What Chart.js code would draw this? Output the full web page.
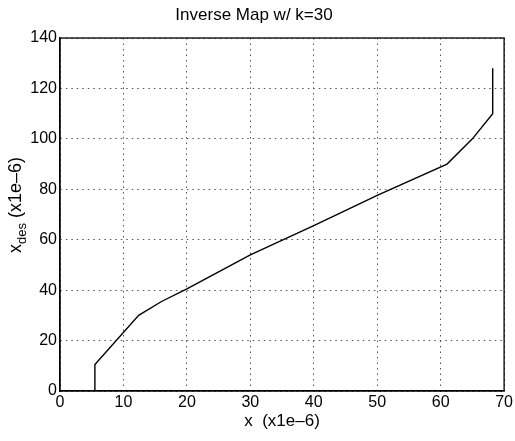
<!DOCTYPE html>
<html>
<head>
<meta charset="utf-8">
<title>Inverse Map w/ k=30</title>
<script src="https://cdn.jsdelivr.net/npm/chart.js@4.4.1/dist/chart.umd.min.js"></script>
<style>
  html, body { margin: 0; padding: 0; background: #fff; }
  #wrap { width: 515px; height: 441px; }
</style>
</head>
<body>
<div id="wrap"><canvas id="myChart" width="515" height="441"></canvas></div>
<script>
// values (units of 1e-6)
var xValues = [0, 5.5, 5.5, 12.4, 16, 20, 30, 40, 50, 61, 65, 68.2, 68.2];
var yValues = [0, 0, 10.5, 30, 35.5, 40.5, 54, 65.6, 77.6, 90, 100, 110, 128];
var xTicks = [0, 10, 20, 30, 40, 50, 60, 70];
var yTicks = [0, 20, 40, 60, 80, 100, 120, 140];

var fontName = "'Liberation Sans', Arial, Helvetica, sans-serif";

// frame round the plot area plus the y label with its subscript
var boxPlugin = {
	id: 'box',
	afterDraw: function(chart) {
		var ctx = chart.ctx;
		var a = chart.chartArea;
		ctx.save();
		ctx.strokeStyle = '#000';
		ctx.lineWidth = 1.3;
		ctx.strokeRect(a.left, a.top, a.right - a.left, a.bottom - a.top);

		// y axis label: x_des (x1e-6)
		ctx.translate(21, 253);
		ctx.rotate(-Math.PI / 2);
		ctx.fillStyle = '#000';
		ctx.textBaseline = 'alphabetic';
		ctx.textAlign = 'left';
		ctx.font = '18px ' + fontName;
		ctx.fillText('x', 0, 0);
		var w = ctx.measureText('x').width;
		ctx.font = '13px ' + fontName;
		ctx.fillText('des', w, 5);
		w += ctx.measureText('des').width;
		ctx.font = '18px ' + fontName;
		ctx.fillText(' (x1e\u20136)', w, 0);
		ctx.restore();
	}
};

function makeData() {
	var pts = [];
	for (var i = 0; i < xValues.length; i++) {
		pts.push({ x: xValues[i], y: yValues[i] });
	}
	return pts;
}

var el = document.getElementById('myChart');
var myChart = new Chart(el, {
	type: 'line',
	data: {
		datasets: [{
			data: makeData(),
			borderColor: '#000',
			borderWidth: 1.4,
			pointRadius: 0,
			tension: 0,
			fill: false
		}]
	},
	options: {
		responsive: false,
		animation: false,
		layout: { padding: { left: 0, right: 7, top: 0, bottom: 0 } },
		plugins: {
			legend: { display: false },
			tooltip: { enabled: false },
			title: {
				display: true,
				text: 'Inverse Map w/ k=30',
				color: '#000',
				font: { family: fontName, size: 17, weight: 'normal' },
				padding: { top: 5, bottom: 12.6 }
			}
		},
		scales: {
			x: {
				type: 'linear',
				min: 0,
				max: 70,
				afterFit: function(scale) { scale.height = 50; },
				afterBuildTicks: function(scale) {
					scale.ticks = xTicks.map(function(v) { return { value: v }; });
				},
				grid: {
					color: '#555',
					lineWidth: 1,
					drawTicks: false
				},
				border: { display: true, color: '#000', width: 1.3, dash: [1.5, 4] },
				ticks: {
					color: '#000',
					padding: 2,
					maxRotation: 0,
					font: { family: fontName, size: 16 }
				},
				title: {
					display: true,
					text: 'x  (x1e\u20136)',
					color: '#000',
					font: { family: fontName, size: 17 },
					padding: { top: 0, bottom: 9 }
				}
			},
			y: {
				type: 'linear',
				min: 0,
				max: 140,
				afterFit: function(scale) { scale.width = 60; },
				afterBuildTicks: function(scale) {
					scale.ticks = yTicks.map(function(v) { return { value: v }; });
				},
				grid: {
					color: '#555',
					lineWidth: 1,
					drawTicks: false
				},
				border: { display: true, color: '#000', width: 1.3, dash: [1.5, 4] },
				ticks: {
					color: '#000',
					padding: 3,
					font: { family: fontName, size: 16 }
				}
			}
		}
	},
	plugins: [boxPlugin]
});
</script>
</body>
</html>
